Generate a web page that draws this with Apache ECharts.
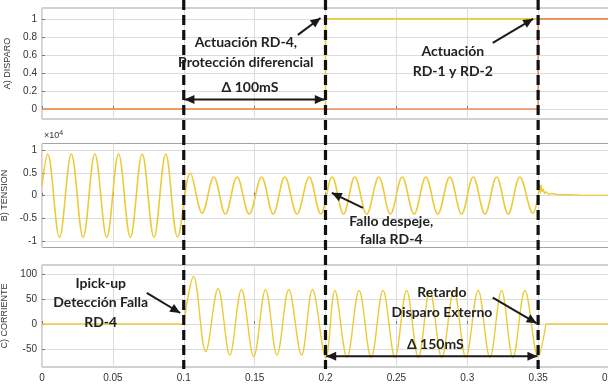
<!DOCTYPE html>
<html><head><meta charset="utf-8">
<script src="https://cdn.jsdelivr.net/npm/echarts@6/dist/echarts.min.js"></script>
<style>html,body{margin:0;padding:0;background:#fff}#c{width:608px;height:385px}</style>
</head><body><div id="c"></div>
<script>
// ---- data ----
const xTicks = [0, 0.05, 0.1, 0.15, 0.2, 0.25, 0.3, 0.35, 0.4];
const disparoTicks = [0, 0.2, 0.4, 0.6, 0.8, 1];
const tensionTicks = [-10000, -5000, 0, 5000, 10000];
const corrienteTicks = [-50, 0, 50, 100];
const faultTimes = [0.1, 0.2, 0.35];

const disparoRD4 = [[0, 0], [0.2, 0], [0.2, 1], [0.4, 1]];
const disparoRD12 = [[0, 0], [0.35, 0], [0.35, 1], [0.4, 1]];

// voltage extrema (t [s], V)
const tension = [
  [0.0000, 2200], [0.0040, 9100], [0.0123, -9100], [0.0207, 9100], [0.0290, -9100],
  [0.0373, 9100], [0.0457, -9100], [0.0540, 9100], [0.0623, -9100], [0.0707, 9100],
  [0.0790, -9100], [0.0873, 9100], [0.0957, -9000], [0.1047, 4900], [0.1130, -3800],
  [0.1212, 4100], [0.1294, -4000], [0.1376, 4100], [0.1462, -4000], [0.1549, 4100],
  [0.1631, -4000], [0.1713, 4100], [0.1799, -4000], [0.1885, 4100], [0.1967, -4000],
  [0.2047, 4100], [0.2127, -4000], [0.2207, 4100], [0.2291, -4000], [0.2376, 4100],
  [0.2458, -4000], [0.2541, 4100], [0.2625, -4000], [0.2708, 4100], [0.2792, -4000],
  [0.2877, 4100], [0.2960, -4000], [0.3042, 4100], [0.3125, -4000], [0.3207, 4100],
  [0.3289, -4000], [0.3371, 4100], [0.3463, -3800], [0.3500, 0]
];
const tensionTransient = [
  [0.3500, 0], [0.3508, 2600], [0.3514, 500], [0.3520, 2400], [0.3528, 800],
  [0.3536, 1500], [0.3546, 400], [0.3558, 900], [0.3575, 300], [0.3600, 500],
  [0.3650, 200], [0.3720, 250], [0.3800, 100], [0.4000, 80]
];

// current extrema (t [s], A)
const corrientePre = [[0, 0], [0.1, 0]];
const corriente = [
  [0.1000, 0], [0.1069, 95], [0.1155, -55], [0.1242, 71], [0.1325, -62], [0.1407, 69],
  [0.1494, -65], [0.1577, 69], [0.1658, -62], [0.1741, 69], [0.1831, -62], [0.1908, 69],
  [0.2002, -67], [0.2066, 67], [0.2152, -67], [0.2237, 67], [0.2322, -67], [0.2406, 67],
  [0.2490, -67], [0.2572, 67], [0.2655, -67], [0.2736, 67], [0.2820, -67], [0.2906, 67],
  [0.2990, -67], [0.3077, 67], [0.3160, -67], [0.3242, 67], [0.3322, -67], [0.3407, 67],
  [0.3500, -65], [0.3555, 0]
];
const corrientePost = [[0.3555, 0], [0.4, 0]];

// ---- styling ----
const YEL = '#ECCB38', ORA = '#EE8A62';
const AX_FONT = 'Liberation Sans';
const grids = [
  {left: 42, width: 567, top: 8, height: 111},
  {left: 42, width: 567, top: 143.5, height: 104},
  {left: 42, width: 567, top: 265, height: 102}
].map(g => Object.assign(g, {show: true, borderColor: '#a3a3a3', borderWidth: 1, backgroundColor: '#fff',
  containLabel: false, outerBoundsMode: 'none'}));

function xAx(i) {
  return {
    type: 'value', gridIndex: i, min: 0, max: 0.4, interval: 0.05,
    axisLine: {show: false},
    axisTick: {show: true, inside: true, length: 3, lineStyle: {color: '#777'}},
    axisLabel: {show: i === 2, fontFamily: AX_FONT, fontSize: 10, color: '#333', margin: 6,
      hideOverlap: false, showMaxLabel: true, showMinLabel: true,
      formatter: v => String(Math.round(v * 100) / 100)},
    splitLine: {show: true, lineStyle: {color: '#dcdcdc', width: 1}}
  };
}
function yAx(i, min, max, ticks, name, fmt) {
  return {
    type: 'value', gridIndex: i, min: min, max: max,
    name: name, nameLocation: 'middle', nameGap: 24,
    nameTextStyle: {fontFamily: AX_FONT, fontSize: 9, color: '#333'},
    axisLine: {show: false},
    axisTick: {show: true, inside: true, length: 3, lineStyle: {color: '#777'}, customValues: ticks},
    axisLabel: {fontFamily: AX_FONT, fontSize: 10, color: '#333', margin: 5, customValues: ticks,
      formatter: fmt || (v => String(Math.round(v * 100) / 100))},
    splitLine: {show: true, lineStyle: {color: '#dcdcdc', width: 1}}
  };
}

const chart = echarts.init(document.getElementById('c'), null, {renderer: 'canvas'});
const lineS = (data, xi, color, smooth, w) => ({
  type: 'line', xAxisIndex: xi, yAxisIndex: xi, data: data, showSymbol: false, symbol: 'none',
  smooth: smooth, lineStyle: {color: color, width: w}, itemStyle: {color: color}, animation: false, z: 3
});

chart.setOption({
  animation: false,
  grid: grids,
  xAxis: [xAx(0), xAx(1), xAx(2)],
  yAxis: [
    yAx(0, -0.11, 1.12, disparoTicks, 'A) DISPARO'),
    yAx(1, -11300, 11400, tensionTicks, 'B) TENSION', v => String(Math.round(v / 1000) / 10)),
    yAx(2, -86, 118, corrienteTicks, 'C) CORRIENTE')
  ],
  series: [
    lineS(disparoRD4, 0, YEL, false, 1.6),
    lineS(disparoRD12, 0, ORA, false, 1.6),
    lineS(tension, 1, YEL, 0.36, 1.6),
    lineS(tensionTransient, 1, YEL, false, 1.4),
    lineS(corrientePre, 2, YEL, false, 1.6),
    lineS(corriente, 2, YEL, 0.36, 1.4),
    lineS(corrientePost, 2, YEL, false, 1.6)
  ]
});

// ---- annotations ----
const P = (gi, x, y) => chart.convertToPixel({xAxisIndex: gi, yAxisIndex: gi}, [x, y]);
const TXT_FONT = 'Lato';
const els = [];
function text(gi, x, y, str, lh) {
  const p = P(gi, x, y);
  els.push({type: 'text', z: 20, style: {text: str, x: p[0], y: p[1], align: 'center', verticalAlign: 'middle',
    fontFamily: TXT_FONT, fontWeight: 'bold', fontSize: 14, lineHeight: lh || 20, fill: '#222'}});
}
function head(tip, from) {
  const dx = tip[0] - from[0], dy = tip[1] - from[1], L = Math.hypot(dx, dy);
  const ux = dx / L, uy = dy / L, hl = 10, hw = 4.5;
  const bx = tip[0] - ux * hl, by = tip[1] - uy * hl;
  return {type: 'polygon', z: 21, shape: {points: [tip, [bx - uy * hw, by + ux * hw], [bx + uy * hw, by - ux * hw]]},
    style: {fill: '#1a1a1a'}};
}
function arrow(gi, x1, y1, x2, y2, both) {
  const a = P(gi, x1, y1), b = P(gi, x2, y2);
  els.push({type: 'line', z: 21, shape: {x1: a[0], y1: a[1], x2: b[0], y2: b[1]}, style: {stroke: '#1a1a1a', lineWidth: 2}});
  els.push(head(b, a));
  if (both) els.push(head(a, b));
}
// dashed vertical lines across all panels
faultTimes.forEach(t => {
  const x = chart.convertToPixel({xAxisIndex: 2}, t);
  els.push({type: 'line', z: 19, shape: {x1: x, y1: 0, x2: x, y2: 369},
    style: {stroke: '#111', lineWidth: 3.2, lineDash: [10, 5]}});
});
text(0, 0.1438, 0.63, 'Actuación RD-4,\nProtección diferencial');
arrow(0, 0.1805, 0.822, 0.1965, 1.01);
text(0, 0.1467, 0.244, 'Δ 100mS');
arrow(0, 0.1005, 0.106, 0.1995, 0.106, true);
text(0, 0.2898, 0.528, 'Actuación\nRD-1 y RD-2');
arrow(0, 0.318, 0.733, 0.3465, 1.0);
text(1, 0.2464, -7550, 'Fallo despeje,\nfalla RD-4', 18);
arrow(1, 0.2264, -2640, 0.2044, 630);
text(2, 0.0414, 42.9, 'Ipick-up\nDetección Falla\nRD-4', 19.5);
arrow(2, 0.0739, 62.4, 0.0975, 22);
text(2, 0.2821, 42.3, 'Retardo\nDisparo Externo', 20);
arrow(2, 0.318, 52.9, 0.3490, 1.4);
text(2, 0.2775, -40.2, 'Δ 150mS');
arrow(2, 0.2005, -64.4, 0.3495, -64.4, true);
// x10^4 exponent label
const e = P(1, 0, 11400);
els.push({type: 'text', z: 20, style: {text: '{a|×10}{b|4}', x: e[0] + 2, y: e[1] - 2, align: 'left', verticalAlign: 'bottom',
  rich: {a: {fontFamily: AX_FONT, fontSize: 9, fill: '#333'}, b: {fontFamily: AX_FONT, fontSize: 7, fill: '#333', verticalAlign: 'top', padding: [0, 0, 5, 0]}}}});

chart.setOption({graphic: {elements: els}});
</script>
</body></html>
